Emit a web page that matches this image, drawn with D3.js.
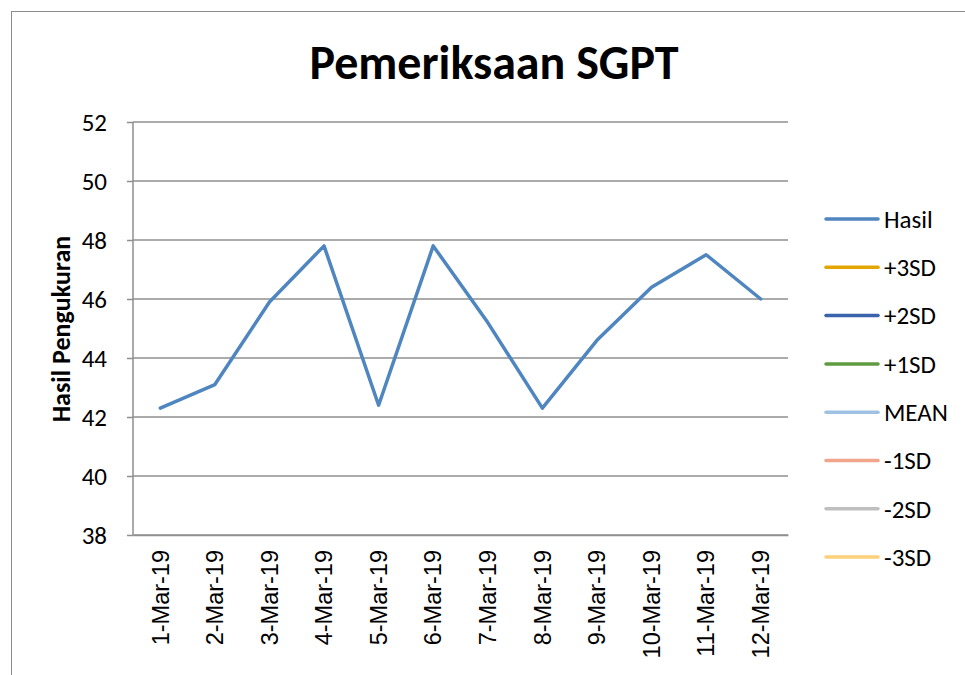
<!DOCTYPE html>
<html>
<head>
<meta charset="utf-8">
<script src="https://cdn.jsdelivr.net/npm/d3@7"></script>
<style>
  body { margin: 0; background: #fff; }
  svg { display: block; }
</style>
</head>
<body>
<svg id="chart" width="965" height="675"></svg>
<script>
const dates = ["1-Mar-19", "2-Mar-19", "3-Mar-19", "4-Mar-19", "5-Mar-19", "6-Mar-19",
    "7-Mar-19", "8-Mar-19", "9-Mar-19", "10-Mar-19", "11-Mar-19", "12-Mar-19"];
const hasil = [42.3, 43.1, 45.9, 47.8, 42.4, 47.8, 45.2, 42.3, 44.6, 46.4, 47.5, 46.0];
const seriesNames = ["Hasil", "+3SD", "+2SD", "+1SD", "MEAN", "-1SD", "-2SD", "-3SD"];
const seriesColors = ["#4f86c0", "#e3a600", "#3b62ad", "#5f9b40", "#9fc1e4", "#f1a58a", "#bfbfbf", "#fdd07a"];
const yTicks = [38, 40, 42, 44, 46, 48, 50, 52];

const svg = d3.select("#chart");
const margin = { left: 133, right: 788, top: 122, bottom: 535 };
const calibri = "Carlito, Lato, 'Open Sans', sans-serif";

// chart frame
svg.append("rect")
    .attr("x", 11.5).attr("y", 11.5)
    .attr("width", 1000).attr("height", 1000)
    .attr("fill", "none")
    .attr("stroke", "#8c8c8c")
    .attr("stroke-width", 1);

const x = d3.scaleBand().domain(dates).range([margin.left, margin.right]);
const y = d3.scaleLinear().domain([38, 52]).range([margin.bottom, margin.top]);

// gridlines
svg.append("g")
    .selectAll("line")
    .data(yTicks)
    .join("line")
    .attr("x1", margin.left).attr("x2", margin.right)
    .attr("y1", (d) => y(d)).attr("y2", (d) => y(d))
    .attr("stroke", "#8f8f8f")
    .attr("stroke-width", 1.5);

// y axis line
svg.append("line")
    .attr("x1", margin.left).attr("x2", margin.left)
    .attr("y1", margin.top).attr("y2", margin.bottom)
    .attr("stroke", "#8f8f8f")
    .attr("stroke-width", 1.5);

const yAxis = svg.append("g")
    .attr("transform", `translate(${margin.left},0)`)
    .call(d3.axisLeft(y).tickValues(yTicks).tickSize(6).tickPadding(20));
yAxis.select(".domain").remove();
yAxis.selectAll(".tick line").attr("stroke", "#8f8f8f").attr("stroke-width", 1.5);
yAxis.selectAll("text")
    .attr("font-family", calibri)
    .attr("font-size", 25)
    .attr("fill", "#000");

const xAxis = svg.append("g")
    .attr("transform", `translate(0,${margin.bottom})`)
    .call(d3.axisBottom(x).tickSize(0).tickPadding(0));
xAxis.select(".domain").attr("stroke", "#8f8f8f").attr("stroke-width", 1.5);
xAxis.selectAll("text")
    .attr("font-family", "'Liberation Sans', Arial, sans-serif")
    .attr("font-size", 23.5)
    .attr("fill", "#000")
    .attr("text-anchor", "end")
    .attr("dy", "0.35em")
    .attr("transform", "translate(0,15) rotate(-90)");

// line
const line = d3.line()
    .x((d, i) => x(dates[i]) + x.bandwidth() / 2)
    .y((d) => y(d));

svg.append("path")
    .datum(hasil)
    .attr("d", line)
    .attr("fill", "none")
    .attr("stroke", seriesColors[0])
    .attr("stroke-width", 3.5)
    .attr("stroke-linejoin", "round")
    .attr("stroke-linecap", "round");

// title
svg.append("text")
    .attr("x", 494).attr("y", 79)
    .attr("text-anchor", "middle")
    .attr("font-family", calibri)
    .attr("font-weight", "bold")
    .attr("font-size", 48)
    .text("Pemeriksaan SGPT");

// y axis title
svg.append("text")
    .attr("transform", "translate(70,329) rotate(-90)")
    .attr("text-anchor", "middle")
    .attr("font-family", calibri)
    .attr("font-weight", "bold")
    .attr("font-size", 26)
    .text("Hasil Pengukuran");

// legend
const legend = svg.append("g")
    .selectAll("g")
    .data(seriesNames)
    .join("g")
    .attr("transform", (d, i) => `translate(826,${219 + i * 48.3})`);

legend.append("line")
    .attr("x1", 0).attr("x2", 52)
    .attr("stroke", (d, i) => seriesColors[i])
    .attr("stroke-width", 3.5)
    .attr("stroke-linecap", "round");

legend.append("text")
    .attr("x", 58)
    .attr("dy", "0.35em")
    .attr("font-family", calibri)
    .attr("font-size", 25)
    .text((d) => d);
</script>
</body>
</html>
